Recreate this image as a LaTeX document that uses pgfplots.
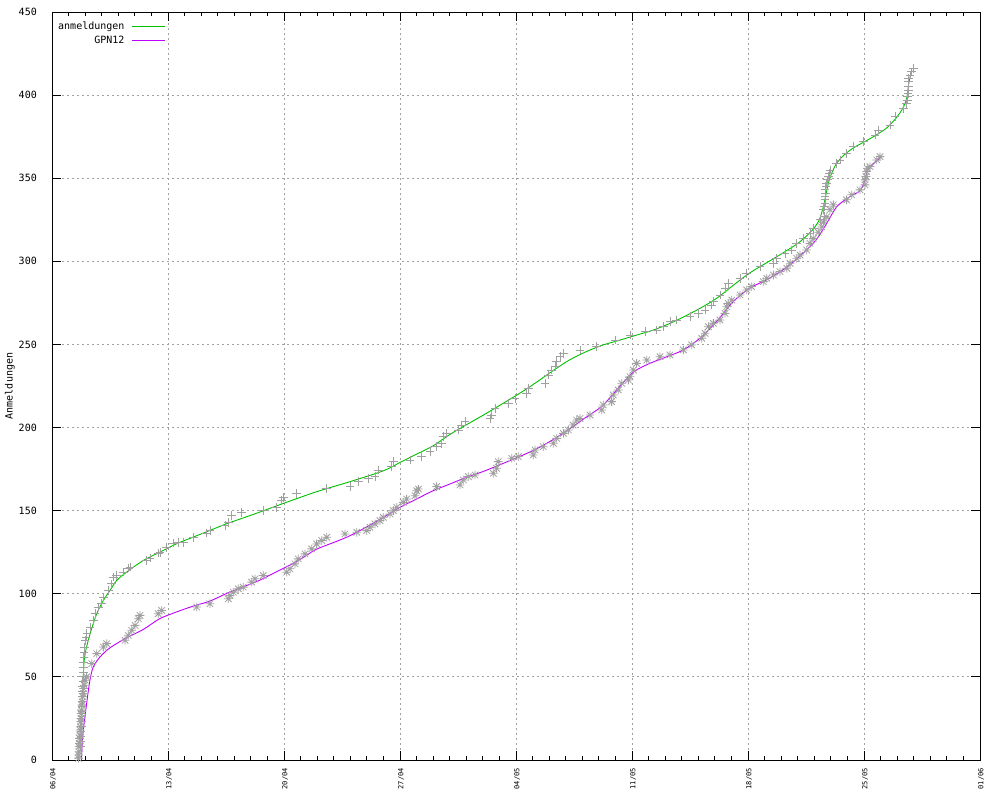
\documentclass[border=0pt]{standalone}
\usepackage{fontspec}
\setmainfont{DejaVu Sans Mono}
\usepackage{graphicx}
\usepackage{pgfplots}
\pgfplotsset{compat=1.18}

\definecolor{gpgreen}{HTML}{00C000}
\definecolor{gppurple}{HTML}{C000FF}
\definecolor{gpgray}{HTML}{A0A0A0}

% gnuplot style "*" point: plus and cross on top of each other
\pgfdeclareplotmark{gpstar}{%
  \pgfpathmoveto{\pgfqpoint{-\pgfplotmarksize}{0pt}}%
  \pgfpathlineto{\pgfqpoint{\pgfplotmarksize}{0pt}}%
  \pgfpathmoveto{\pgfqpoint{0pt}{-\pgfplotmarksize}}%
  \pgfpathlineto{\pgfqpoint{0pt}{\pgfplotmarksize}}%
  \pgfpathmoveto{\pgfqpoint{-.75\pgfplotmarksize}{-.75\pgfplotmarksize}}%
  \pgfpathlineto{\pgfqpoint{.75\pgfplotmarksize}{.75\pgfplotmarksize}}%
  \pgfpathmoveto{\pgfqpoint{-.75\pgfplotmarksize}{.75\pgfplotmarksize}}%
  \pgfpathlineto{\pgfqpoint{.75\pgfplotmarksize}{-.75\pgfplotmarksize}}%
  \pgfusepathqstroke}

\newcommand{\rl}[1]{\rotatebox{90}{#1}}

\begin{document}
\begin{tikzpicture}
  \begin{axis}[
      scale only axis,
      width=928pt, height=748pt,
      xmin=0, xmax=56, ymin=0, ymax=450,
      axis line style={black, line width=0.9pt},
      % days counted from 06/04
      xtick={0,7,...,56},
      xticklabels={\rl{06/04},\rl{13/04},\rl{20/04},\rl{27/04},\rl{04/05},
        \rl{11/05},\rl{18/05},\rl{25/05},\rl{01/06}},
      minor x tick num=6,
      ytick={0,50,...,450},
      tick align=inside,
      major tick length=9pt,
      minor tick length=4pt,
      tick style={black, line width=0.8pt},
      grid=major,
      grid style={gpgray, line width=0.8pt, dash pattern=on 2pt off 3pt},
      /pgf/number format/assume math mode=true,
      yticklabel style={font=\fontsize{10}{12}\selectfont, inner sep=0pt, xshift=-15pt},
      xticklabel style={font=\fontsize{7}{8}\selectfont, anchor=north,
        inner sep=0pt, yshift=-8pt, xshift=1pt},
      ylabel={Anmeldungen},
      ylabel style={font=\fontsize{10}{12}\selectfont,
        at={(axis description cs:-0.0453,0.5)}, anchor=center, inner sep=0pt},
      legend plot pos=right,
      legend cell align=right,
      legend image code/.code={%
        \path[draw=none, fill=none] (0pt,-2pt) rectangle (40pt,2pt);
        \draw[#1] (7pt,0pt) -- (40pt,0pt);},
      legend style={at={(axis description cs:0,1)}, anchor=north west,
        draw=none, fill=none, font=\fontsize{10}{12}\selectfont,
        inner sep=0pt, row sep=3pt, xshift=5pt, yshift=-8.5pt,
        nodes={inner sep=1pt}},
    ]

    % anmeldungen, single registrations
    \addplot[only marks, mark=+, mark size=4.3pt, gpgray, line width=0.8pt, forget plot] coordinates {
      (1.72,8) (1.73,11) (1.75,14) (1.76,17) (1.78,20) (1.79,23) (1.80,26)
      (1.80,29) (1.80,32) (1.81,35) (1.82,38) (1.84,41) (1.85,44) (1.86,47)
      (1.87,50) (1.89,53) (1.90,56) (1.91,59) (1.92,62) (1.94,65) (1.95,68)
      (2.00,72) (2.05,74) (2.10,76)
      (2.29,80) (2.49,84) (2.59,88) (2.79,92) (3.00,94) (3.10,98) (3.40,102)
      (3.60,106) (3.70,110) (3.90,111) (4.30,113) (4.60,115.5) (4.71,116)
      (5.71,120) (5.91,121.5) (6.41,124.5) (6.52,125) (6.92,128) (7.32,130.5)
      (7.62,131) (7.92,131) (8.53,134) (9.34,136.5) (9.53,138) (10.44,141)
      (10.64,143) (10.84,147) (11.45,149) (12.75,150) (13.56,152) (13.86,156)
      (13.96,158) (14.77,160.5) (16.58,163.4) (17.98,164.4) (18.48,167.4)
      (19.09,169.4) (19.49,170.4) (19.69,174.5) (20.50,176.5) (20.60,179.5)
      (21.60,180.5) (22.31,182.5) (22.81,185.5) (23.21,188.5) (23.52,190.5)
      (23.61,194.5) (23.82,196.5) (24.52,198.5) (24.72,201.5) (24.92,203.5)
      (26.43,205.5) (26.53,207.6) (26.73,211.6) (27.54,214.6) (27.94,217.6)
      (28.65,220.6) (28.74,223.6) (29.75,226.6) (29.95,231.6) (30.15,234.6)
      (30.35,236.6) (30.46,239.6) (30.66,242.6) (30.86,244.6) (31.86,246.7)
      (32.87,248.6) (33.97,252.7) (34.88,255.7) (35.78,257.7) (36.49,258.7)
      (36.89,260.7) (37.29,263.7) (37.70,264.7) (38.50,266.7) (39.00,268.7)
      (39.41,270.7) (39.81,273.7) (39.91,275.7) (40.31,279.8) (40.61,283.8)
      (40.81,286.8) (41.52,289.8) (41.92,292.8) (42.72,296.8) (43.53,298.8)
      (43.73,301.8) (44.23,304.8) (44.64,306.8) (44.94,310.8) (45.34,313.8)
      (45.74,316.8) (45.94,319.8) (46.35,325) (46.55,331) (46.60,327)
      (46.62,333) (46.65,335) (46.65,337) (46.65,339) (46.68,341) (46.65,343)
      (46.70,345) (46.75,347) (46.80,349) (46.85,351) (46.90,353) (46.95,355)
      (47.35,359) (47.55,361) (47.95,365) (48.36,369) (48.96,372) (49.66,376)
      (49.86,379) (50.57,382) (50.87,387) (51.37,392) (51.58,395) (51.62,397)
      (51.63,399) (51.65,401) (51.68,403) (51.68,405) (51.68,408) (51.70,410)
      (51.78,412) (51.85,414) (51.98,416)
    };

    % GPN12, single registrations
    \addplot[only marks, mark=gpstar, mark size=4.3pt, gpgray, line width=0.8pt, forget plot] coordinates {
      (1.60,1) (1.61,3) (1.62,5) (1.63,8) (1.65,10) (1.66,13) (1.68,15)
      (1.70,18) (1.72,20) (1.73,23) (1.75,25) (1.76,28) (1.78,30) (1.80,33)
      (1.82,35) (1.85,38) (1.88,40) (1.91,43) (1.95,45) (2.00,48)
      (2.09,50) (2.40,58) (2.70,64) (3.10,68)
      (3.30,70) (4.41,72) (4.60,75) (4.81,78) (5.01,81) (5.21,85) (5.31,87)
      (6.41,88) (6.62,90) (8.73,92) (9.53,94) (10.64,97) (10.74,99)
      (10.94,101) (11.24,103) (11.54,104) (12.05,107) (12.25,109) (12.75,111)
      (14.16,113) (14.36,115) (14.66,118) (14.86,121) (15.27,124) (15.67,127)
      (15.97,130) (16.28,132) (16.58,134) (17.68,136) (18.39,137) (18.99,138)
      (19.19,140) (19.49,142) (19.79,144) (19.99,146) (20.40,148) (20.60,150)
      (20.80,152) (21.20,155) (21.40,157) (21.91,159) (22.01,162) (22.11,163)
      (23.21,164.5) (24.62,165.5) (24.82,168.5) (25.12,170.5) (25.53,171.5)
      (26.63,172.5) (26.83,175.5) (26.93,179.5) (27.74,181.5) (28.14,182.5)
      (29.04,183.5) (29.15,186.5) (29.65,188.5) (30.25,190.5) (30.46,193.5)
      (30.86,196.5) (31.16,198.5) (31.44,201.5) (31.66,204.5) (31.86,205.5)
      (32.47,207.5) (33.17,210.6) (33.27,213.6) (33.77,215.6) (33.87,219.6)
      (34.17,222.6) (34.38,226.6) (34.78,228.6) (34.88,230.6) (35.08,234.6)
      (35.28,238.6) (35.89,240.6) (36.69,242.6) (37.29,243.7) (38.10,246.7)
      (38.60,249.7) (39.21,253.7) (39.41,256.7) (39.61,260.7) (39.91,262.7)
      (40.31,264.7) (40.61,268.7) (40.71,272.7) (40.81,274.7) (41.02,276.7)
      (41.52,279.8) (41.92,282.8) (42.22,284.8) (42.92,287.8) (43.13,289.8)
      (43.53,291.8) (43.93,293.8) (44.34,295.8) (44.54,298.8) (44.94,301.8)
      (45.14,303.8) (45.54,306.8) (45.74,310.8) (45.94,313.8) (46.24,317.5)
      (46.45,320.7) (46.55,323.6) (46.75,326.7) (46.95,331) (47.15,334)
      (47.95,337) (48.26,340) (48.76,343) (49.06,346) (49.06,349) (49.12,351)
      (49.16,354) (49.20,356) (49.36,357) (49.77,361) (49.97,363)
    };

    % smoothed curves
    \addplot[gpgreen, line width=0.9pt, smooth, no marks, forget plot] coordinates {
      (1.75,12) (1.79,28) (1.89,52) (2.0,64) (2.3,76) (2.7,88) (3.1,96)
      (3.5,102) (3.9,108) (4.5,113) (5.5,120) (6.5,125) (7.5,130) (8.5,134)
      (9.5,138) (10.5,142) (11.5,145.5) (12.5,149) (14,154.5) (16,161.5)
      (18,167.5) (20,174) (21,179) (22,184) (23,189) (24.2,197) (26.2,208.5)
      (28.2,220.5) (29.2,227) (30.2,234) (31.2,240.5) (32.2,245.5) (33.2,249.5)
      (34.3,252.7) (35.3,255.7) (36.3,258.7) (37.3,262.7) (38.2,267)
      (39.1,271.7) (40.1,277.7) (41.1,285.5) (42.1,293) (43.1,299) (44.1,305)
      (45.1,311.5) (45.9,319) (46.3,325) (46.55,333) (46.72,341) (46.85,347)
      (47.05,353) (47.35,359) (47.8,364) (48.4,368.5) (49.4,374) (50.4,380.5)
      (51.15,389) (51.55,397) (51.7,407) (51.88,415)
    };

    \addplot[gppurple, line width=0.9pt, smooth, no marks, forget plot] coordinates {
      (1.78,0) (1.82,10) (1.89,18) (2.09,34) (2.29,48) (2.49,56) (2.9,62)
      (3.5,67.5) (4.5,73.5) (5.5,78.5) (6.5,85) (7.5,89) (8.5,92.5)
      (9.5,95.5) (10.5,100) (11.5,104) (12.5,108) (13.5,113) (14.5,118)
      (15.5,124) (16,127) (18,135) (20,146) (21,152) (22,157) (23,162)
      (24,166) (25,170) (26,173.5) (27,177.5) (28.2,182.5) (29.2,187)
      (30.2,192.5) (31.2,199) (32.2,206) (33.2,213) (34.2,224) (35.1,233.5)
      (36.1,238.7) (37.1,242.6) (38.1,246.7) (39.1,253.7) (40.1,263.7)
      (41.1,275.7) (42.1,283.8) (43.1,288.8) (44.1,294.8) (45.1,302.8)
      (46.1,312.8) (46.75,322.9) (47.37,333) (48.16,339) (48.76,342.5)
      (49.06,349) (49.24,355) (49.6,359) (49.97,362)
    };

    \addlegendimage{color=gpgreen, line width=1pt}
    \addlegendentry{anmeldungen}
    \addlegendimage{color=gppurple, line width=1pt}
    \addlegendentry{GPN12}
  \end{axis}
  \pgfresetboundingbox
  \path (-52pt,-40pt) rectangle (948pt,760pt);
\end{tikzpicture}
\end{document}
